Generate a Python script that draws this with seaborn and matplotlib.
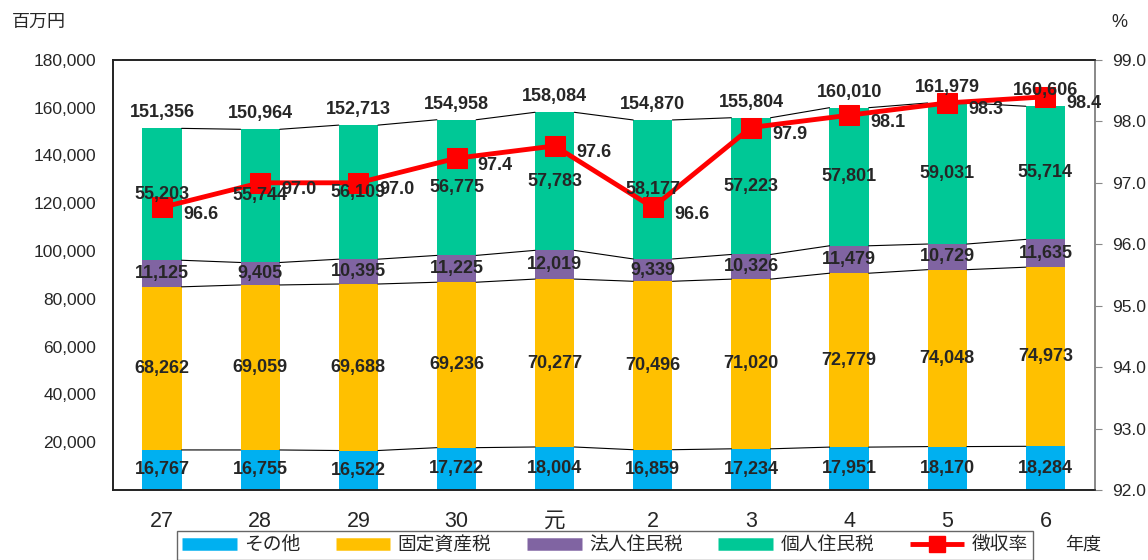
import matplotlib
matplotlib.use("Agg")
import matplotlib.pyplot as plt
import seaborn as sns
import numpy as np
from matplotlib.lines import Line2D

"""
tax revenue by item (stacked bars, million yen) with collection rate line
"""

YEARS = ["27", "28", "29", "30", "元", "2", "3", "4", "5", "6"]
OTHER = [16767, 16755, 16522, 17722, 18004, 16859, 17234, 17951, 18170, 18284]
FIXED = [68262, 69059, 69688, 69236, 70277, 70496, 71020, 72779, 74048, 74973]
CORP = [11125, 9405, 10395, 11225, 12019, 9339, 10326, 11479, 10729, 11635]
INDIV = [55203, 55744, 56109, 56775, 57783, 58177, 57223, 57801, 59031, 55714]
TOTAL = [151356, 150964, 152713, 154958, 158084, 154870, 155804, 160010, 161979, 160606]
RATE = [96.6, 97.0, 97.0, 97.4, 97.6, 96.6, 97.9, 98.1, 98.3, 98.4]

NAMES = ["その他", "固定資産税", "法人住民税", "個人住民税", "徴収率"]
COLORS = ["#00B0F0", "#FFC000", "#8064A2", "#00C896"]
LINE_COLOR = "#FF0000"
BAR_W = 0.4

sns.set_style("white")
plt.rcParams["font.family"] = ["Liberation Sans", "Noto Sans CJK JP", "DejaVu Sans"]


def main():
    fig = plt.figure(figsize=(11.48, 5.6), dpi=100)
    ax = fig.add_axes([0.0984, 0.125, 0.855, 0.768])

    series = [OTHER, FIXED, CORP, INDIV]
    cums = np.cumsum(np.array(series), axis=0)

    # draw the stacks from the top down so each overlaps the one above
    for k in range(3, -1, -1):
        sns.barplot(x=YEARS, y=cums[k], color=COLORS[k], width=BAR_W,
                    saturation=1, linewidth=0, ax=ax)

    # excel style series lines between bars
    for lev in cums:
        for i in range(len(YEARS) - 1):
            ax.plot([i + BAR_W / 2, i + 1 - BAR_W / 2], [lev[i], lev[i + 1]],
                    color="black", lw=0.8, zorder=3)

    ax.set_ylim(0, 180000)
    ax.set_yticks(range(20000, 180001, 20000))
    ax.set_yticklabels([f"{v:,d}" for v in range(20000, 180001, 20000)], fontsize=12.5)
    ax.tick_params(axis="y", length=0, pad=12)
    ax.set_xticks(range(len(YEARS)))
    ax.set_xticklabels(YEARS, fontsize=15.5)
    ax.tick_params(axis="x", length=0, pad=15)
    ax.set_xticks(np.arange(0.5, len(YEARS) - 1, 1), minor=True)
    ax.tick_params(axis="x", which="minor", direction="in", length=5, color="#333333")
    ax.set_xlabel("")
    ax.set_ylabel("")

    # collection rate on right axis
    ax2 = ax.twinx()
    sns.lineplot(x=np.arange(len(YEARS)), y=RATE, ax=ax2, color=LINE_COLOR,
                 lw=3.5, marker="s", markersize=14, markeredgecolor=LINE_COLOR)
    ax2.set_ylim(92, 99)
    ax2.set_yticks(np.arange(92, 99.1, 1))
    ax2.set_yticklabels([f"{v:.1f}" for v in np.arange(92, 99.1, 1)], fontsize=12.5)
    ax2.tick_params(axis="y", length=5, pad=8, color="#888888", direction="out")
    ax2.set_ylabel("")
    ax.set_xlim(-0.5, len(YEARS) - 0.5)

    for a in (ax, ax2):
        for s in ("left", "bottom", "top"):
            a.spines[s].set_color("#222222")
            a.spines[s].set_linewidth(1.2)
        a.spines["right"].set_color("#888888")
        a.spines["right"].set_linewidth(1.2)

    # value labels on top of everything
    lab = dict(fontsize=13, fontweight="bold", ha="center", va="center",
               transform=ax.transData, zorder=10)
    for i in range(len(YEARS)):
        bottom = 0
        for k, vals in enumerate(series):
            ax2.text(i, bottom + vals[i] / 2, f"{vals[i]:,d}", **lab)
            bottom += vals[i]
        ax2.text(i, TOTAL[i] + 6500, f"{TOTAL[i]:,d}", **lab)
        ax2.annotate(f"{RATE[i]:.1f}", (i, RATE[i]), xytext=(28, -5),
                     textcoords="offset points", fontsize=13, fontweight="bold",
                     ha="center", va="center", zorder=10)

    fig.text(0.010, 0.96, "百万円", fontsize=13, va="center", ha="left")
    fig.text(0.968, 0.96, "%", fontsize=13, va="center", ha="left")
    fig.text(0.928, 0.027, "年度", fontsize=13, va="center", ha="left")

    handles = [Line2D([], [], color=c, lw=9, solid_capstyle="butt") for c in COLORS]
    handles.append(Line2D([], [], color=LINE_COLOR, lw=3.5, marker="s", markersize=12,
                          solid_capstyle="butt"))
    leg = fig.legend(handles, NAMES, loc="upper center", bbox_to_anchor=(0.527, 0.052),
                     ncol=5, fontsize=13.5, frameon=True, fancybox=False,
                     handlelength=2.9, columnspacing=1.9, borderpad=0.3,
                     borderaxespad=0, handletextpad=0.4)
    leg.get_frame().set_edgecolor("#404040")
    leg.get_frame().set_linewidth(1.0)

    fig.savefig("out.png", dpi=100)


if __name__ == '__main__':
    main()
